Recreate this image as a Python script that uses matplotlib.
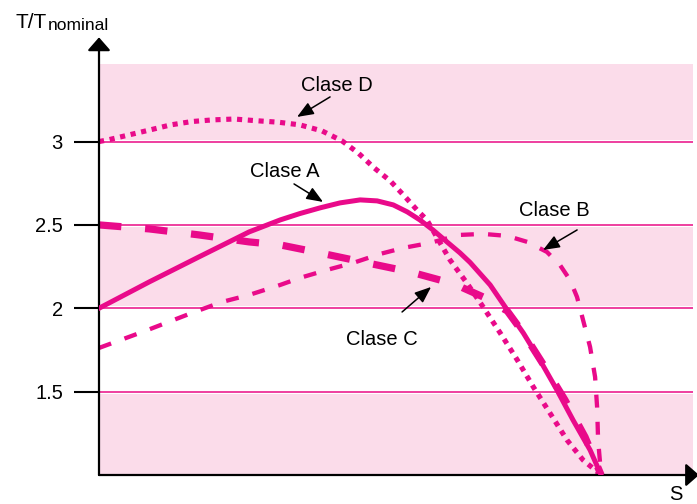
import matplotlib
matplotlib.use("Agg")
import matplotlib.pyplot as plt

# DATA (S in % of the axis length, torque ratio T/Tnominal)
s_a = [0, 10.0, 19.9, 29.9, 36.1, 40.0, 44.0, 48.0, 52.0, 55.4, 58.6, 61.4, 63.9, 66.5, 69.3, 71.9,
       73.9, 77.9, 81.3, 84.5, 87.8, 91.2, 94.4, 97.8, 100]
t_a = [2.00, 2.158, 2.308, 2.458, 2.530, 2.568, 2.602, 2.632, 2.650, 2.644, 2.620, 2.578, 2.530, 2.470,
       2.398, 2.332, 2.275, 2.140, 1.990, 1.852, 1.690, 1.510, 1.330, 1.150, 1.0]

s_b = [0, 9.2, 18.5, 24.5, 29.9, 36.1, 40.0, 45.4, 50.6, 56.0, 60.6, 65.9, 71.9, 76.5, 81.3, 85.3,
       89.2, 91.8, 93.8, 95.2, 96.4, 97.8, 98.8, 99.2, 99.4, 100]
t_b = [1.762, 1.864, 1.972, 2.038, 2.080, 2.140, 2.182, 2.230, 2.272, 2.326, 2.362, 2.392, 2.440, 2.446,
       2.434, 2.398, 2.338, 2.260, 2.170, 2.068, 1.930, 1.768, 1.588, 1.408, 1.210, 1.0]

s_c = [0, 10.0, 19.9, 29.9, 36.1, 44.0, 53.4, 62.0, 69.3, 71.3, 72.5, 76.5, 78.5, 81.3, 84.5, 88.8,
       92.8, 96.8, 100]
t_c = [2.50, 2.476, 2.44, 2.398, 2.38, 2.332, 2.272, 2.218, 2.158, 2.140, 2.122, 2.068, 2.032, 1.984,
       1.852, 1.648, 1.450, 1.228, 1.0]

s_d = [0, 1.8, 6.0, 10.2, 14.3, 18.5, 22.7, 26.9, 31.3, 35.7, 40.0, 44.4, 48.4, 51.6, 54.8, 58.0,
       60.8, 63.5, 65.3, 69.9, 73.3, 76.5, 79.9, 83.3, 86.5, 89.8, 93.2, 96.4, 100]
t_d = [3.00, 3.01, 3.04, 3.07, 3.10, 3.12, 3.13, 3.135, 3.125, 3.116, 3.10, 3.064, 3.004, 2.932, 2.842,
       2.764, 2.674, 2.584, 2.53, 2.29, 2.15, 2.008, 1.852, 1.690, 1.528, 1.372, 1.210, 1.090, 1.0]

yticks = [1.5, 2, 2.5, 3]
ytick_labels = ["1.5", "2", "2.5", "3"]
bands = [(1.0, 1.5), (2.0, 2.5), (3.0, 3.48)]

MAG = "#e90a8a"
PINK = "#fbdcea"
GRID = "#ee3f9f"

plt.rcParams["font.family"] = ["Liberation Sans", "DejaVu Sans"]

fig = plt.figure(figsize=(6.97, 5.04), dpi=100)
ax = fig.add_axes([99 / 697, 29 / 504, 594 / 697, 436 / 504])
xmax = 118.3
ax.set_xlim(0, xmax)
ax.set_ylim(1, 3.615)
for sp in ax.spines.values():
    sp.set_visible(False)

# bands and reference lines
gap = 0.012
for lo, hi in bands:
    ax.axhspan(lo + (gap if lo > 1 else 0), hi - gap, color=PINK, lw=0, zorder=0)
for y in yticks:
    ax.axhline(y, color=GRID, lw=1.4, zorder=1)

# curves
ax.plot(s_d, t_d, color=MAG, lw=3.7, dashes=(1, 1.1), zorder=3)
ax.plot(s_b, t_b, color=MAG, lw=3.1, dashes=(3, 3.3), zorder=3)
ax.plot(s_c, t_c, color=MAG, lw=5.2, dashes=(3.1, 3.3), solid_capstyle="butt", zorder=3)
ax.plot(s_a, t_a, color=MAG, lw=3.6, solid_joinstyle="round", zorder=4)

# ticks
ax.set_xticks([])
ax.set_yticks(yticks)
ax.set_yticklabels(ytick_labels, fontsize=14.5)
ax.tick_params(axis="y", length=18, width=1.5, pad=8, color="black")

# axes with arrows
head = "-|>,head_length=0.4,head_width=0.35"
ax.annotate("", xy=(0, 3.625), xytext=(0, 1), xycoords="data",
            arrowprops=dict(arrowstyle=head, color="black", lw=1.6, mutation_scale=20,
                            shrinkA=0, shrinkB=0), annotation_clip=False)
ax.annotate("", xy=(119.5, 1), xytext=(0, 1), xycoords="data",
            arrowprops=dict(arrowstyle=head, color="black", lw=1.6, mutation_scale=20,
                            shrinkA=0, shrinkB=0), annotation_clip=False)

# labels
fig.text(15 / 697, 1 - 28.5 / 504, "T/T", fontsize=15, va="baseline", ha="left")
fig.text(48 / 697, 1 - 30 / 504, "nominal", fontsize=12.5, va="baseline", ha="left")
fig.text(676 / 697, 1 - 495 / 504, "S", fontsize=14.5, va="center", ha="center")

# class annotations: (text, text center, arrow start, arrow tip) in pixel positions
def px(x, y):
    return ((x - 99) / 5.02, 2 + (308.3 - y) / 166.7)

notes = [
    ("Clase D", (337, 86), (330, 97), (297, 117)),
    ("Clase A", (285, 172), (294, 184), (323, 202)),
    ("Clase B", (554, 211), (577, 230), (543, 250)),
    ("Clase C", (382, 340), (402, 312), (431, 287)),
]
for label, tpos, a0, a1 in notes:
    ax.text(*px(*tpos), label, fontsize=14.5, ha="center", va="center", zorder=6)
    ax.annotate("", xy=px(*a1), xytext=px(*a0),
                arrowprops=dict(arrowstyle="-|>,head_length=0.5,head_width=0.2", color="black",
                                lw=1.1, mutation_scale=20, shrinkA=0, shrinkB=0), zorder=6)

fig.savefig("out.png", dpi=100)
